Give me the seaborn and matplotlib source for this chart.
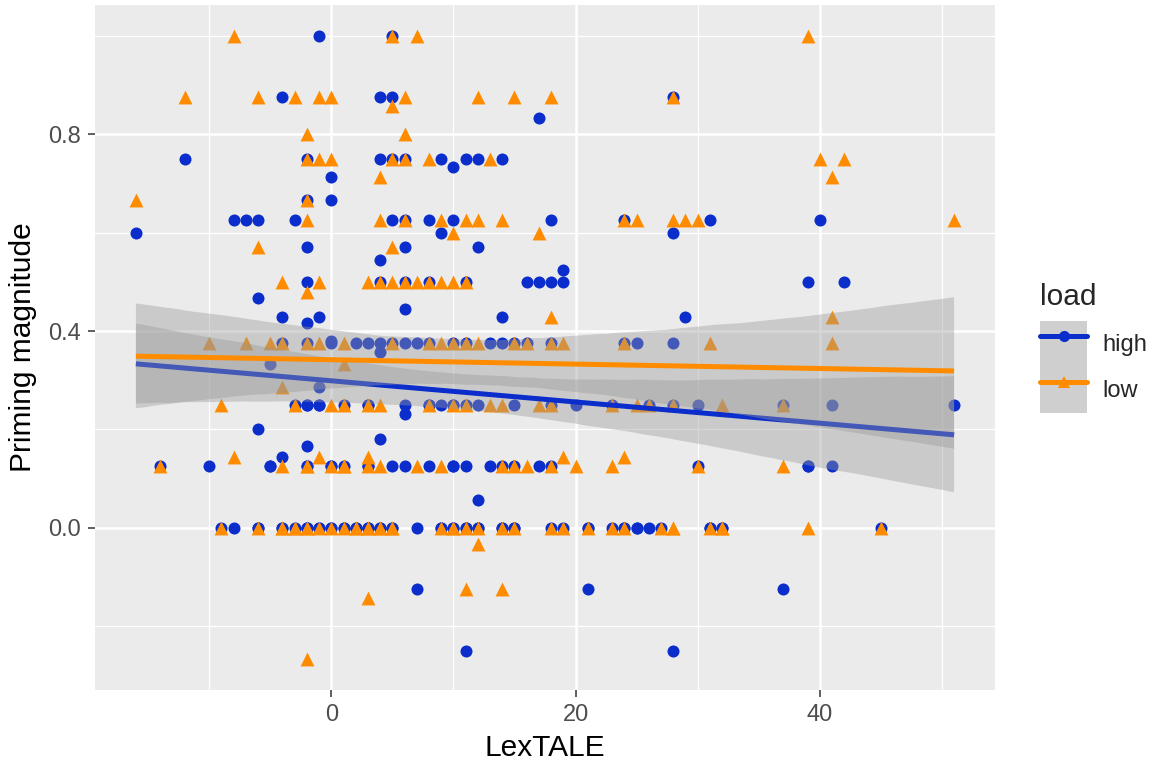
import numpy as np
import pandas as pd
import matplotlib
matplotlib.use("Agg")
import matplotlib.pyplot as plt
import seaborn as sns
from matplotlib.lines import Line2D
from matplotlib.patches import Patch
from matplotlib.legend_handler import HandlerTuple

# ---------------- data ----------------
groups = ["high", "low"]
x_label = "LexTALE"
y_label = "Priming magnitude"
legend_title = "load"
x_ticks = [0, 20, 40]
x_minor = [-10, 10, 30, 50]
y_ticks = [0.0, 0.4, 0.8]
y_tick_labels = ["0.0", "0.4", "0.8"]
y_minor = [-0.2, 0.2, 0.6, 1.0]

# priming value -> LexTALE scores of the participants with that value
# (repeated scores = participants hidden under one another)
high_points = {
    1.0: [-1, 5],
    0.875: [-4, 4, 5, 28],
    0.833: [17],
    0.75: [-12, -2, 4, 5, 6, 9, 11, 12, 14],
    0.733: [10],
    0.714: [0],
    0.667: [-2, 0],
    0.625: [-8, -7, -6, -3, 5, 6, 8, 10, 18, 24, 31, 40],
    0.6: [-16, 9, 28],
    0.571: [-2, 6, 12],
    0.545: [4],
    0.524: [19],
    0.5: [-2, 4, 6, 8, 11, 16, 17, 18, 19, 39, 42],
    0.467: [-6],
    0.444: [6],
    0.429: [-4, -1, 14, 29],
    0.417: [-2],
    0.38: [0],
    0.375: [-4, -2, 0, 2, 3, 4, 5, 6, 7, 8, 10, 11, 13, 14, 15, 16, 18, 24, 25, 28],
    0.357: [4],
    0.333: [-5],
    0.286: [-1],
    0.25: [-3, -2, -2, -1, -1, 1, 3, 3, 6, 8, 8, 9, 10, 10, 11, 12, 15, 18, 20, 23, 26,
           28, 30, 37, 41, 51],
    0.231: [6],
    0.2: [-6],
    0.18: [4],
    0.167: [-2],
    0.143: [-4],
    0.125: [-14, -10, -5, -5, -2, -2, 0, 0, 1, 3, 3, 5, 6, 8, 10, 10, 11, 13, 14, 15, 17,
            18, 30, 39, 39, 41],
    0.056: [12],
    0.0: [-9, -8, -6, -6, -4, -4, -3, -2, -2, -2, -1, -1, 0, 0, 1, 1,
          2, 2, 3, 3, 3, 4, 4, 5, 5, 7, 9, 9, 10, 10, 11, 11, 12, 12, 14, 14, 15, 15,
          18, 19, 21, 21, 23, 24, 24, 25, 25, 26, 27, 31, 31, 32, 32, 45],
    -0.125: [7, 21, 37],
    -0.25: [11, 28],
}

low_points = {
    1.0: [-8, 5, 7, 39],
    0.875: [-12, -6, -3, -1, 0, 6, 12, 15, 18, 28],
    0.857: [5],
    0.8: [-2, 6],
    0.75: [-2, -1, 0, 5, 6, 8, 13, 40, 42],
    0.714: [4, 41],
    0.667: [-16, -2],
    0.625: [-2, 4, 6, 9, 11, 12, 14, 24, 25, 28, 29, 30, 51],
    0.6: [10, 17],
    0.571: [-6, 5],
    0.5: [-4, -1, 3, 4, 5, 6, 7, 8, 9, 10, 11],
    0.48: [-2],
    0.429: [18, 41],
    0.375: [-10, -7, -5, -4, -2, -1, 1, 5, 8, 9, 10, 11, 12, 15, 16, 18, 19, 24, 31, 41],
    0.333: [1],
    0.286: [-4],
    0.25: [-9, -3, 0, 1, 3, 4, 8, 10, 11, 13, 14, 17, 18, 23, 25, 26, 28, 32, 37],
    0.143: [-8, -1, 3, 19, 24],
    0.125: [-14, -4, -2, -2, 0, 1, 1, 3, 4, 7, 9, 14, 15, 16, 18, 20, 23, 30, 37],
    0.0: [-9, -6, -4, -4, -3, -3, -2, -2, -1, 0, 1, 2, 2, 3, 3, 4, 4, 5, 5,
          9, 10, 10, 11, 12, 14, 15, 18, 19, 21, 23, 24, 27, 28, 28, 31, 32, 32, 39, 45],
    -0.033: [12],
    -0.125: [11, 14],
    -0.143: [3],
    -0.267: [-2],
}

# ---------------- styling ----------------
colors = {"high": "#0A2DCB", "low": "#FF8C00"}
markers = {"high": "o", "low": "^"}
sizes = {"high": 75, "low": 100}

rows = []
for load, pts in (("high", high_points), ("low", low_points)):
    for yv, xs in pts.items():
        for xv in xs:
            rows.append((xv, yv, load))
df = pd.DataFrame(rows, columns=["LexTALE", "priming", "load"])

sns.set_theme(style="darkgrid")
plt.rcParams["font.family"] = ["Liberation Sans", "DejaVu Sans"]

fig = plt.figure(figsize=(11.56, 7.67), dpi=100)
ax = fig.add_axes([95 / 1156, 77 / 767, 900 / 1156, 685 / 767])
ax.set_facecolor("#EBEBEB")

# points (high first, low drawn on top)
for i, g in enumerate(groups):
    sub = df[df["load"] == g]
    sns.scatterplot(data=sub, x="LexTALE", y="priming", color=colors[g],
                    marker=markers[g], s=sizes[g], linewidth=0, ax=ax,
                    legend=False, zorder=3 + i)

# regression lines with confidence ribbons (ggplot-like grey ribbons)
z = 10
for g in groups:
    sub = df[df["load"] == g]
    n_before = len(ax.collections)
    sns.regplot(data=sub, x="LexTALE", y="priming", scatter=False, ax=ax,
                color=colors[g], ci=95, n_boot=2000, seed=3, truncate=True,
                line_kws={"lw": 3.6, "zorder": z + 1, "solid_capstyle": "butt"})
    for coll in ax.collections[n_before:]:
        coll.set_facecolor("#999999")
        coll.set_edgecolor("none")
        coll.set_alpha(0.4)
        coll.set_zorder(z)
    z += 2

# axes
ax.set_xlim(-19.35, 54.35)
ax.set_ylim(-0.33, 1.063)
ax.set_xticks(x_ticks)
ax.set_xticklabels([str(t) for t in x_ticks])
ax.set_yticks(y_ticks)
ax.set_yticklabels(y_tick_labels)
ax.set_xticks(x_minor, minor=True)
ax.set_yticks(y_minor, minor=True)
ax.grid(which="major", color="white", linewidth=1.8)
ax.grid(which="minor", color="white", linewidth=0.9)
ax.set_axisbelow(True)
for sp in ax.spines.values():
    sp.set_visible(False)
ax.tick_params(which="major", length=5, width=1.1, color="#333333",
               labelsize=17, labelcolor="#4D4D4D", pad=5, left=True, bottom=True)
ax.tick_params(which="minor", length=0)
ax.set_xlabel(x_label, fontsize=21.5, color="black", labelpad=6)
ax.set_ylabel(y_label, fontsize=21.5, color="black", labelpad=8)

# legend (ggplot-style keys: grey ribbon + line + point)
handles = []
for g in groups:
    handles.append((Patch(facecolor="#CFCFCF", edgecolor="none"),
                    Line2D([], [], color=colors[g], lw=3.6, marker=markers[g],
                           markersize=8 if g == "high" else 9,
                           markeredgewidth=0)))
leg = fig.legend(handles, groups, title=legend_title, loc="upper left",
                 bbox_to_anchor=(1040 / 1156, 1 - 283 / 767), frameon=False,
                 handler_map={tuple: HandlerTuple(ndivide=1, pad=0)},
                 fontsize=17, title_fontsize=21.5, handlelength=2.0,
                 handleheight=2.62, labelspacing=0.0, handletextpad=0.65,
                 borderpad=0, borderaxespad=0, alignment="left")
leg._legend_box.sep = 7  # gap between title and keys (points)

fig.savefig("out.png", dpi=100)
